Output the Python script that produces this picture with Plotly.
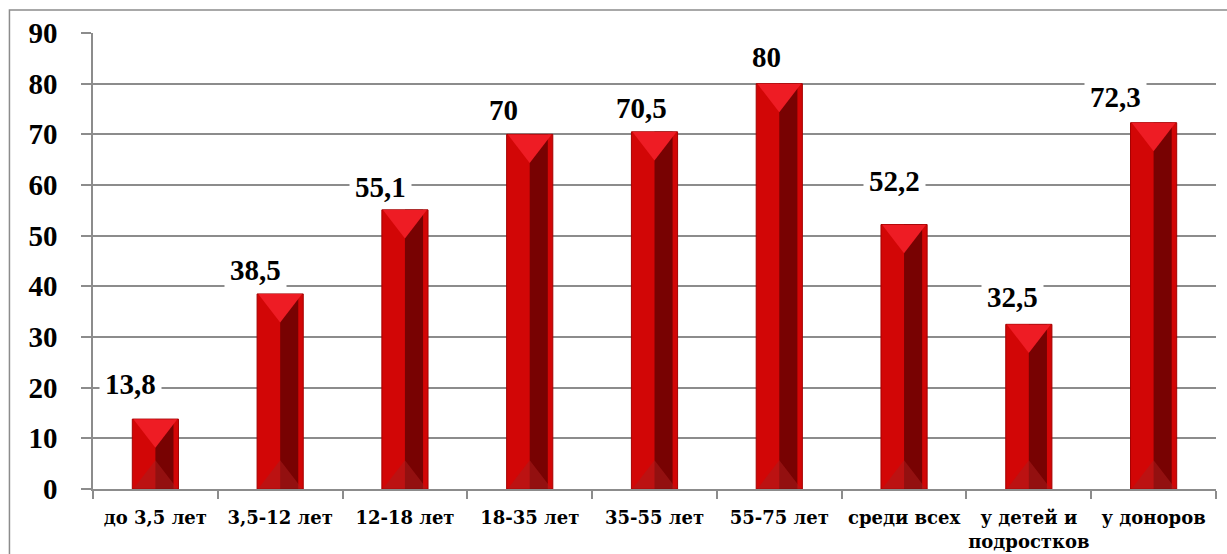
import plotly.graph_objects as go

categories = ["до 3,5 лет", "3,5-12 лет", "12-18 лет", "18-35 лет", "35-55 лет",
              "55-75 лет", "среди всех", "у детей и<br>подростков", "у доноров"]
values = [13.8, 38.5, 55.1, 70, 70.5, 80, 52.2, 32.5, 72.3]
labels = ["13,8", "38,5", "55,1", "70", "70,5", "80", "52,2", "32,5", "72,3"]
y_ticks = [0, 10, 20, 30, 40, 50, 60, 70, 80, 90]

# label placement (pixels) relative to bar top centre
label_dx = [-25, -25, -24, -26, -13, -13, -10, -16, -38]
label_dy = [35, 24, 23, 24, 24, 27, 44, 27, 26]

FONT = "Liberation Serif"
XFONT = "DejaVu Serif"
GRID = "#8c8c8c"

fig = go.Figure()

# main bar body
fig.add_trace(go.Bar(
    x=categories, y=values, width=0.37,
    marker=dict(color="#d20606", line=dict(color="#a50000", width=1)),
    hoverinfo="skip", showlegend=False))

# dark right stripe (bevel)
fig.add_trace(go.Bar(
    x=categories, y=values, width=0.145, offset=0,
    marker=dict(color="#780202", line=dict(width=0)),
    hoverinfo="skip", showlegend=False))

# bright top triangle (bevel)
tri_off = 1.9
fig.add_trace(go.Scatter(
    x=categories, y=[v - tri_off for v in values], mode="markers",
    marker=dict(symbol="triangle-down", size=38, color="#ee1c24",
                line=dict(width=0)),
    hoverinfo="skip", showlegend=False))

# subtle bottom pyramid (bevel)
fig.add_trace(go.Scatter(
    x=categories, y=[tri_off for _ in values], mode="markers",
    marker=dict(symbol="triangle-up", size=38, color="rgba(170,30,30,0.55)",
                line=dict(width=0)),
    hoverinfo="skip", showlegend=False))

for c, v, t, dx, dy in zip(categories, values, labels, label_dx, label_dy):
    fig.add_annotation(
        x=c, y=v, text="<b>%s</b>" % t, showarrow=False,
        xanchor="center", yanchor="middle", xshift=dx, yshift=dy,
        font=dict(family=FONT, size=29, color="black"),
        bgcolor="white", borderpad=5)

fig.update_layout(
    width=1227, height=554,
    margin=dict(l=93, r=11, t=33, b=65, autoexpand=False),
    paper_bgcolor="white", plot_bgcolor="white",
    barmode="overlay", bargap=0.63,
    font=dict(family=FONT, color="black"),
    shapes=[dict(type="rect", xref="paper", yref="paper",
                 x0=-0.0744, x1=1.2, y0=-0.3, y1=1.0504,
                 line=dict(color=GRID, width=1.5), layer="below")],
)

fig.update_xaxes(
    type="category", range=[-0.5, len(categories) - 0.5], automargin=False,
    showgrid=False, showline=True, linecolor=GRID, linewidth=1.5,
    ticks="outside", tickson="boundaries", ticklen=8, tickcolor=GRID, tickwidth=1.5,
    tickfont=dict(family=XFONT, size=18, color="black"), tickangle=0,
    ticklabelstandoff=12,
    tickvals=categories,
    ticktext=["<b>%s</b>" % c for c in categories])

fig.update_yaxes(
    range=[0, 90], tickvals=y_ticks, ticktext=["<b>%d</b>" % t for t in y_ticks],
    automargin=False,
    showgrid=True, gridcolor=GRID, gridwidth=1.5,
    showline=True, linecolor=GRID, linewidth=1.5,
    ticks="outside", ticklen=10, tickcolor=GRID, tickwidth=1.5,
    tickfont=dict(family=FONT, size=29, color="black"),
    ticklabelstandoff=18, zeroline=False)

fig.write_html("out.html")
